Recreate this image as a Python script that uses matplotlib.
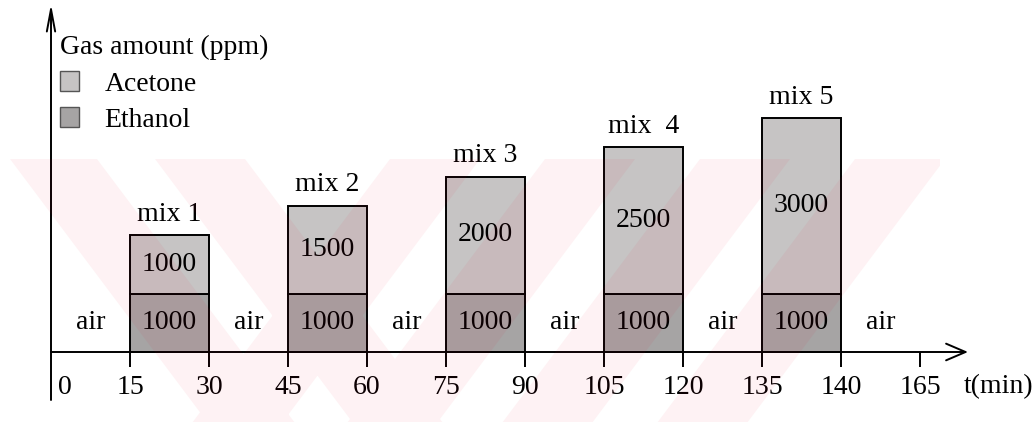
import matplotlib.pyplot as plt
from matplotlib.patches import Patch, PathPatch, Rectangle
from matplotlib.path import Path

# time marks along the x axis (min)
t_labels = ['0', '15', '30', '45', '60', '75', '90', '105', '120', '135', '140', '165']
# each mixture starts at a tick index and lasts one tick
mix_names = ['mix 1', 'mix 2', 'mix 3', 'mix  4', 'mix 5']
mix_start = [1, 3, 5, 7, 9]
ethanol = [1000, 1000, 1000, 1000, 1000]
acetone = [1000, 1500, 2000, 2500, 3000]
# air purges between mixtures (centre of tick interval)
air_pos = [0.5, 2.5, 4.5, 6.5, 8.5, 10.5]

W, H = 1035, 422
x0, y0 = 51, 352      # axis origin, pixels
step = 79             # pixels per tick
ppm_px = 0.0585       # pixels per ppm

ace_color = '#c6c4c4'
eth_color = '#a6a4a4'
fs = 20

plt.rcParams['font.family'] = 'Liberation Serif'
fig = plt.figure(figsize=(W / 100, H / 100), dpi=100)
ax = fig.add_axes([0, 0, 1, 1])
ax.set_xlim(-x0 / step, (W - x0) / step)
ax.set_ylim(-(H - y0) / ppm_px, y0 / ppm_px)
ax.axis('off')

def px_x(p):
    return (p - x0) / step

def px_y(p):
    return (y0 - p) / ppm_px

# axes with arrows
ax.annotate('', xy=(px_x(968), 0), xytext=(0, 0),
            arrowprops=dict(arrowstyle='->,head_length=0.7,head_width=0.3',
                            mutation_scale=20, lw=1.4, color='k', shrinkA=0, shrinkB=0))
ax.annotate('', xy=(0, px_y(4)), xytext=(0, px_y(400)),
            arrowprops=dict(arrowstyle='->,head_length=0.8,head_width=0.15',
                            mutation_scale=20, lw=1.4, color='k', shrinkA=0, shrinkB=0))
ax.vlines(range(1, len(t_labels)), px_y(367), 0, color='k', lw=1.4)

for i, lab in enumerate(t_labels):
    ax.text(i + (0.18 if i == 0 else 0), px_y(387), lab, ha='center', va='center', fontsize=fs)
ax.text(px_x(964), px_y(387), 't(min)', ha='left', va='center', fontsize=fs)

# stacked gas bars
b_eth = ax.bar(mix_start, ethanol, width=1, align='edge', color=eth_color,
               edgecolor='k', lw=1.4, label='Ethanol')
b_ace = ax.bar(mix_start, acetone, width=1, align='edge', bottom=ethanol,
               color=ace_color, edgecolor='k', lw=1.4, label='Acetone')
ax.bar_label(b_eth, labels=[str(v) for v in ethanol], label_type='center', fontsize=fs)
ax.bar_label(b_ace, labels=[str(v) for v in acetone], label_type='center', fontsize=fs)
ax.bar_label(b_ace, labels=mix_names, padding=6, fontsize=fs)

for p in air_pos:
    ax.text(p, ethanol[0] / 2, 'air', ha='center', va='center', fontsize=fs)

handles = [Patch(facecolor=ace_color, edgecolor='#555555', lw=1),
           Patch(facecolor=eth_color, edgecolor='#555555', lw=1)]
leg = ax.legend(handles, ['Acetone', 'Ethanol'], title='Gas amount (ppm)',
                loc='upper left', bbox_to_anchor=(60 / W, 1 - 35 / H),
                bbox_transform=fig.transFigure, frameon=False, alignment='left',
                fontsize=fs, title_fontsize=fs, handlelength=0.7, handleheight=0.75,
                handletextpad=0.9, labelspacing=0.38, borderpad=0, borderaxespad=0)

# faint diagonal watermark stripes
wm = fig.add_axes([0, 0, 1, 1], zorder=5)
wm.set_xlim(0, W)
wm.set_ylim(H, 0)
wm.axis('off')
wm.patch.set_alpha(0)
top, bot = 159, 422
bands = [(10, 97, 0.75), (155, 245, 0.75),
         (390, 480, -0.75), (545, 635, -0.75), (700, 790, -0.75), (855, 945, -0.75)]
paths = []
for xl, xr, s in bands:
    d = s * (bot - top)
    paths.append(Path([(xl, top), (xr, top), (xr + d, bot), (xl + d, bot), (xl, top)],
                      [Path.MOVETO, Path.LINETO, Path.LINETO, Path.LINETO, Path.CLOSEPOLY]))
wm_patch = PathPatch(Path.make_compound_path(*paths), facecolor='#f0002a',
                     edgecolor='none', alpha=0.05)
wm.add_patch(wm_patch)
wm_patch.set_clip_path(Rectangle((0, top), 940, bot - top, transform=wm.transData))

fig.savefig('out.png', dpi=100)
